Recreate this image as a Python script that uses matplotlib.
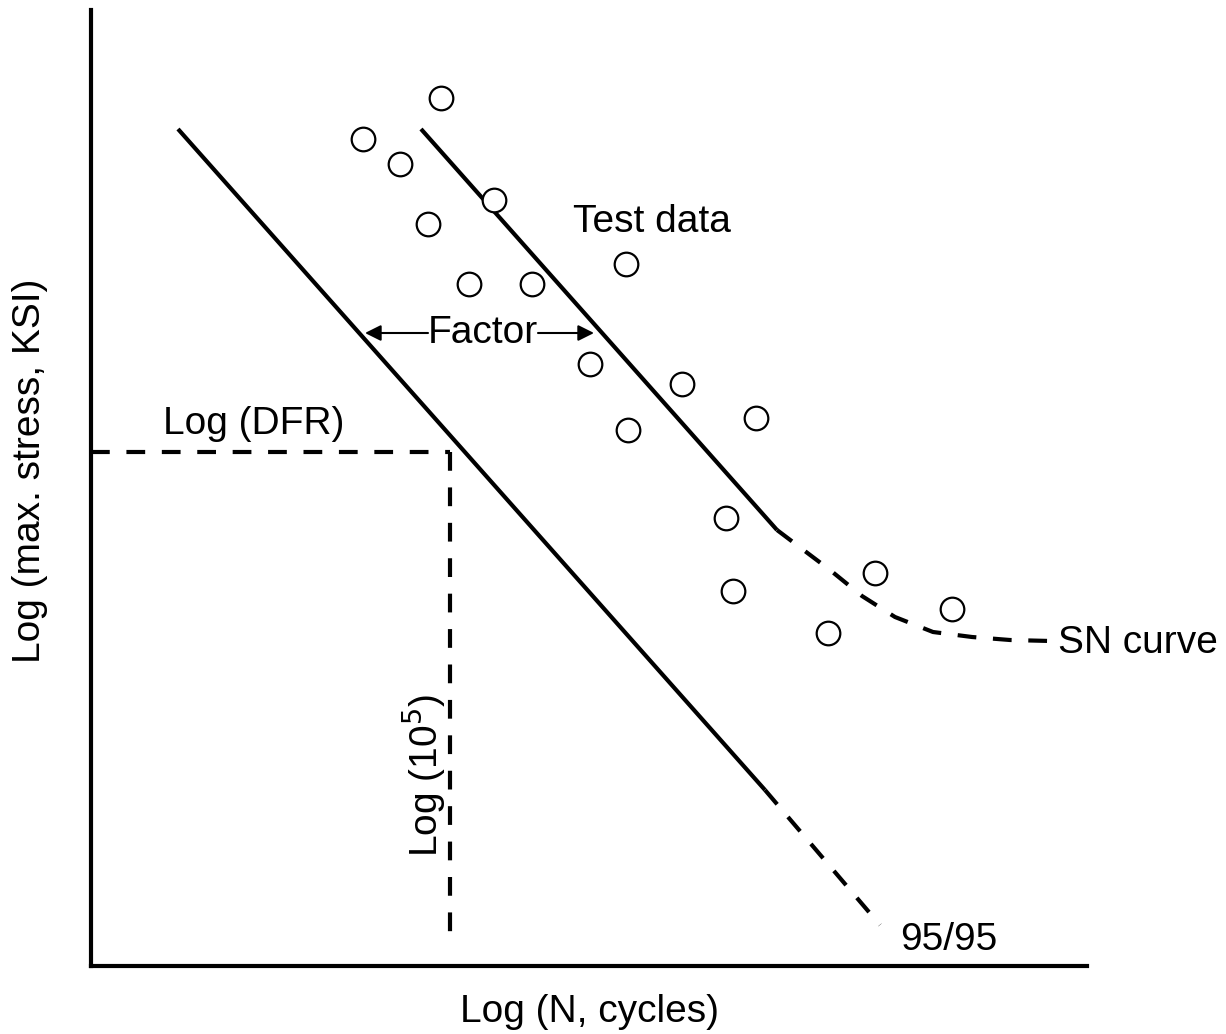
import matplotlib
matplotlib.use("Agg")
import matplotlib.pyplot as plt
import numpy as np

plt.rcParams['font.family'] = ['Liberation Sans', 'DejaVu Sans']

# test data points (log N, log stress) - schematic units
test_x = [3.50, 2.72, 3.09, 4.03, 3.37, 5.35, 3.78, 4.41, 4.99, 5.91, 6.65, 5.37, 6.35, 7.84, 6.42, 8.61, 7.37]
test_y = [8.68, 8.27, 8.02, 7.66, 7.42, 7.02, 6.82, 6.82, 6.02, 5.82, 5.48, 5.36, 4.48, 3.93, 3.75, 3.57, 3.33]

# mean SN curve: straight part then dashed knee
sn_x = [3.30, 6.86]
sn_y = [8.37, 4.36]
sn_tail_x = [6.86, 7.39, 7.71, 8.04, 8.42, 8.81, 9.19, 9.60]
sn_tail_y = [4.36, 3.96, 3.70, 3.49, 3.34, 3.29, 3.26, 3.25]

# 95/95 design curve
d_x = [0.87, 6.74]
d_y = [8.37, 1.76]
d_tail_x = [6.74, 7.89]
d_tail_y = [1.76, 0.41]

# design fatigue rating at 10^5 cycles
dfr_x = 3.59
dfr_y = 5.14
n_bottom = 0.21

fig = plt.figure(figsize=(12.26, 10.34), dpi=100)
ax = fig.add_axes([91/1226, 68/1034, 996/1226, 956/1034])
ax.set_xlim(0, 9.96)
ax.set_ylim(0, 9.56)
for s in ['top', 'right']:
    ax.spines[s].set_visible(False)
for s in ['left', 'bottom']:
    ax.spines[s].set_linewidth(3)
ax.set_xticks([])
ax.set_yticks([])

lw = 3
ax.plot(sn_x, sn_y, color='k', lw=lw, solid_capstyle='butt')
ax.plot(sn_tail_x, sn_tail_y, color='k', lw=lw, dashes=(4.5, 4), dash_capstyle='butt')
ax.plot(d_x, d_y, color='k', lw=lw, solid_capstyle='butt')
ax.plot(d_tail_x, d_tail_y, color='k', lw=lw, dashes=(4.5, 4), dash_capstyle='butt')

ax.plot([0, dfr_x], [dfr_y, dfr_y], color='k', lw=lw, dashes=(4.5, 4), dash_capstyle='butt', clip_on=False)
ax.plot([dfr_x, dfr_x], [dfr_y, n_bottom], color='k', lw=lw, dashes=(4.5, 4), dash_capstyle='butt')

ax.plot(test_x, test_y, 'o', ms=17, mfc='white', mec='k', mew=1.6, ls='none')

fs = 28
ax.text(5.61, 7.44, 'Test data', fontsize=fs, ha='center', va='center')
ax.text(3.92, 6.33, 'Factor', fontsize=fs, ha='center', va='center')
arrow = dict(arrowstyle='-|>', lw=1.5, color='k', mutation_scale=24, shrinkA=0, shrinkB=0)
ax.annotate('', xy=(2.74, 6.33), xytext=(3.37, 6.33), arrowprops=arrow)
ax.annotate('', xy=(5.03, 6.33), xytext=(4.47, 6.33), arrowprops=arrow)
ax.text(0.72, 5.42, 'Log (DFR)', fontsize=fs, ha='left', va='center')
ax.text(3.33, 1.91, r'Log (10$^5$)', fontsize=fs, ha='center', va='center', rotation=90)
ax.text(9.67, 3.23, 'SN curve', fontsize=fs, ha='left', va='center', clip_on=False)
ax.text(8.09, 0.26, '95/95', fontsize=fs, ha='left', va='center')

ax.set_xlabel('Log (N, cycles)', fontsize=fs, va='center')
ax.xaxis.set_label_coords(0.501, -0.048)
ax.set_ylabel('Log (max. stress, KSI)', fontsize=fs, va='center', ha='center')
ax.yaxis.set_label_coords(-0.061, 0.518)

fig.savefig('out.png', dpi=100)
